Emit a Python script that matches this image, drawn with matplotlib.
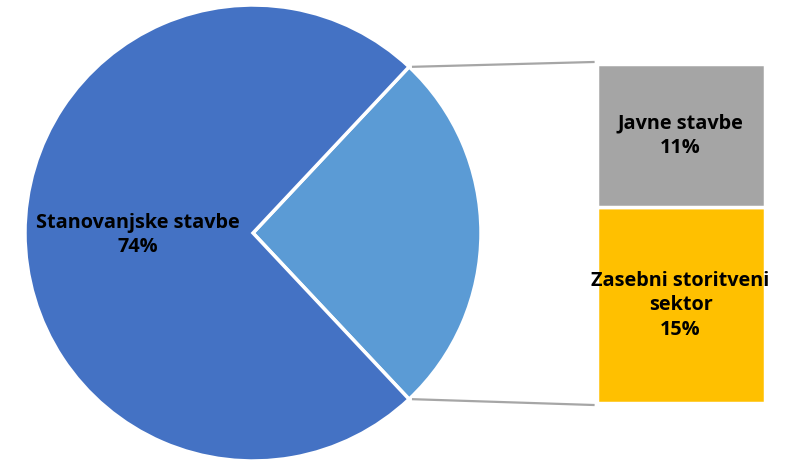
import numpy as np
import matplotlib.pyplot as plt

# shares of the pie and of the broken-out bar
pie_labels = ["Ostalo", "Stanovanjske stavbe"]
pie_values = [26, 74]
bar_labels = ["Zasebni storitveni\nsektor", "Javne stavbe"]
bar_values = [15, 11]

pie_colors = ["#5b9bd5", "#4472c4"]
bar_colors = ["#ffc000", "#a5a5a5"]

fig = plt.figure(figsize=(7.87, 4.62), dpi=100)
ax = fig.add_axes([0, 0, 1, 1])

# pie, small slice centred on the right
cx, cy, r = 253, 229, 228
half = pie_values[0] / sum(pie_values) * 360 / 2
ax.pie(pie_values, colors=pie_colors, startangle=-half, center=(cx, cy),
       radius=r, wedgeprops=dict(edgecolor="white", linewidth=2.5),
       frame=True)
ax.set_xlim(0, 787)
ax.set_ylim(0, 462)
ax.set_aspect("equal")
ax.axis("off")

font = dict(ha="center", va="center", fontsize=14.3, fontweight="bold",
            family="Open Sans", linespacing=1.3, color="black")

ax.text(138, 227, "Stanovanjske stavbe\n" + str(pie_values[1]) + "%", **font)

# stacked bar of the small slice
bx, bw = 680.5, 168
btop, bbot = 398, 59
scale = (btop - bbot) / sum(bar_values)
bottom = bbot
for lab, val, col in zip(bar_labels, bar_values, bar_colors):
    ax.bar(bx, val * scale, width=bw, bottom=bottom, color=col,
           edgecolor="white", linewidth=2.5)
    ax.text(bx, bottom + val * scale / 2, lab + "\n" + str(val) + "%", **font)
    bottom += val * scale

# connector lines
a = np.radians(half)
x0 = cx + r * np.cos(a) + 4
ax.plot([x0, bx - bw / 2 - 3], [cy + r * np.sin(a), btop + 2],
        color="#a6a6a6", lw=1.6)
ax.plot([x0, bx - bw / 2 - 3], [cy - r * np.sin(a), bbot - 2],
        color="#a6a6a6", lw=1.6)

fig.savefig("out.png", dpi=100)
